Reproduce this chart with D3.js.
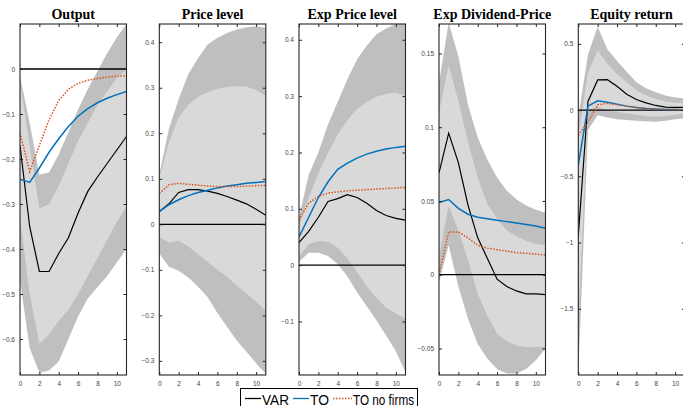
<!DOCTYPE html>
<html><head><meta charset="utf-8">
<script src="https://cdn.jsdelivr.net/npm/d3@7"></script>
<style>body{margin:0;background:#fff}svg{display:block}</style>
</head><body>
<svg id="c" width="683" height="406"></svg>
<script>
const horizons = [0,1,2,3,4,5,6,7,8,9,10,11];
const xTicks = [0,2,4,6,8,10];
const titles = ["Output","Price level","Exp Price level","Exp Dividend-Price","Equity return"];
const seriesNames = ["VAR","TO","TO no firms"];

// Output
const outputVAR   = [-0.17,-0.35,-0.45,-0.45,-0.41,-0.375,-0.32,-0.272,-0.24,-0.21,-0.18,-0.15];
const outputTO    = [-0.245,-0.252,-0.22,-0.185,-0.155,-0.128,-0.105,-0.088,-0.075,-0.065,-0.057,-0.05];
const outputTONF  = [-0.142,-0.228,-0.17,-0.113,-0.07,-0.045,-0.032,-0.025,-0.021,-0.018,-0.016,-0.015];
const outputOutHi = [-0.016,-0.12,-0.235,-0.23,-0.19,-0.14,-0.09,-0.045,-0.005,0.035,0.07,0.1];
const outputInHi  = [-0.03,-0.17,-0.31,-0.30,-0.26,-0.21,-0.16,-0.12,-0.08,-0.05,-0.02,0.0];
const outputInLo  = [-0.33,-0.5,-0.61,-0.59,-0.56,-0.535,-0.5,-0.46,-0.42,-0.38,-0.34,-0.305];
const outputOutLo = [-0.47,-0.62,-0.675,-0.67,-0.65,-0.6,-0.55,-0.51,-0.485,-0.46,-0.43,-0.4];

// Price level
const priceVAR   = [0.028,0.045,0.07,0.076,0.076,0.073,0.068,0.061,0.053,0.045,0.033,0.02];
const priceTO    = [0.028,0.043,0.054,0.063,0.07,0.075,0.08,0.084,0.087,0.09,0.092,0.094];
const priceTONF  = [0.068,0.087,0.09,0.088,0.086,0.084,0.083,0.083,0.083,0.084,0.085,0.085];
const priceOutHi = [0.11,0.21,0.275,0.33,0.365,0.395,0.41,0.42,0.428,0.433,0.435,0.432];
const priceInHi  = [0.10,0.18,0.235,0.262,0.28,0.29,0.298,0.302,0.303,0.302,0.295,0.283];
const priceInLo  = [-0.028,-0.04,-0.036,-0.049,-0.066,-0.083,-0.1,-0.115,-0.135,-0.152,-0.17,-0.19];
const priceOutLo = [-0.064,-0.093,-0.102,-0.117,-0.137,-0.16,-0.195,-0.225,-0.255,-0.28,-0.305,-0.328];

// Exp Price level
const expPriceVAR   = [0.04,0.06,0.085,0.113,0.118,0.125,0.12,0.11,0.097,0.088,0.083,0.08];
const expPriceTO    = [0.05,0.085,0.12,0.148,0.17,0.181,0.19,0.197,0.202,0.206,0.209,0.211];
const expPriceTONF  = [0.08,0.11,0.122,0.128,0.13,0.132,0.133,0.134,0.135,0.136,0.137,0.138];
const expPriceOutHi = [0.085,0.16,0.2,0.25,0.29,0.33,0.365,0.39,0.41,0.42,0.428,0.43];
const expPriceInHi  = [0.07,0.12,0.163,0.2,0.232,0.257,0.277,0.29,0.299,0.304,0.306,0.30];
const expPriceInLo  = [0.015,0.037,0.043,0.041,0.031,0.012,-0.012,-0.038,-0.058,-0.075,-0.086,-0.095];
const expPriceOutLo = [0.006,0.022,0.022,0.016,0.002,-0.02,-0.048,-0.073,-0.098,-0.125,-0.153,-0.19];

// Exp Dividend-Price
const expDPVAR   = [0.069,0.096,0.076,0.047,0.025,0.011,-0.003,-0.008,-0.011,-0.013,-0.013,-0.0135];
const expDPTO    = [0.049,0.051,0.045,0.041,0.039,0.038,0.037,0.036,0.035,0.034,0.033,0.0315];
const expDPTONF  = [0.0,0.029,0.029,0.025,0.02,0.018,0.017,0.016,0.015,0.0145,0.014,0.0134];
const expDPOutHi = [0.13,0.171,0.148,0.115,0.093,0.078,0.066,0.057,0.051,0.047,0.044,0.042];
const expDPInHi  = [0.11,0.142,0.118,0.09,0.066,0.048,0.038,0.03,0.026,0.023,0.021,0.02];
const expDPInLo  = [0.012,0.047,0.03,0.01,-0.013,-0.028,-0.04,-0.045,-0.048,-0.049,-0.049,-0.049];
const expDPOutLo = [-0.005,0.02,-0.008,-0.03,-0.047,-0.057,-0.064,-0.067,-0.067,-0.064,-0.058,-0.05];

// Equity return
const equityVAR   = [-0.95,0.065,0.228,0.23,0.18,0.12,0.08,0.055,0.035,0.022,0.02,0.02];
const equityTO    = [-0.415,0.03,0.07,0.06,0.045,0.03,0.02,0.012,0.008,0.005,0.004,0.003];
const equityTONF  = [-0.19,-0.09,0.04,0.05,0.04,0.03,0.02,0.012,0.008,0.005,0.004,0.003];
const equityOutHi = [-0.05,0.42,0.63,0.46,0.37,0.29,0.21,0.165,0.135,0.11,0.095,0.088];
const equityInHi  = [-0.2,0.28,0.45,0.35,0.27,0.21,0.15,0.11,0.083,0.065,0.055,0.05];
const equityInLo  = [-1.6,0.0,0.025,0.0,-0.015,-0.025,-0.035,-0.045,-0.05,-0.045,-0.035,-0.025];
const equityOutLo = [-2.0,-0.15,-0.038,-0.055,-0.07,-0.075,-0.08,-0.085,-0.088,-0.08,-0.07,-0.063];

const yDomains = [[-0.68,0.1],[-0.331,0.44],[-0.195,0.428],[-0.068,0.170],[-2.0,0.65]];
const yTicks = [[-0.6,-0.5,-0.4,-0.3,-0.2,-0.1,0],[-0.3,-0.2,-0.1,0,0.1,0.2,0.3,0.4],[-0.1,0,0.1,0.2,0.3,0.4],[-0.05,0,0.05,0.1,0.15],[-1.5,-1,-0.5,0,0.5]];

const panels = [
  {var:outputVAR,to:outputTO,nf:outputTONF,oh:outputOutHi,ih:outputInHi,il:outputInLo,ol:outputOutLo},
  {var:priceVAR,to:priceTO,nf:priceTONF,oh:priceOutHi,ih:priceInHi,il:priceInLo,ol:priceOutLo},
  {var:expPriceVAR,to:expPriceTO,nf:expPriceTONF,oh:expPriceOutHi,ih:expPriceInHi,il:expPriceInLo,ol:expPriceOutLo},
  {var:expDPVAR,to:expDPTO,nf:expDPTONF,oh:expDPOutHi,ih:expDPInHi,il:expDPInLo,ol:expDPOutLo},
  {var:equityVAR,to:equityTO,nf:equityTONF,oh:equityOutHi,ih:equityInHi,il:equityInLo,ol:equityOutLo}
];

const svg = d3.select("#c");
const lefts = [20,159.3,299,439,578.3];
const pw = 106.5, topY = 24, bottomY = 375;
const colVAR = "#000000", colTO = "#0072BD", colNF = "#D95319";

panels.forEach((p,i)=>{
  const x = d3.scaleLinear().domain([0,11]).range([lefts[i], lefts[i]+pw]);
  const y = d3.scaleLinear().domain(yDomains[i]).range([bottomY, topY]);
  const g = svg.append("g");
  const cid = "clip"+i;
  svg.append("clipPath").attr("id",cid).append("rect")
    .attr("x",lefts[i]).attr("y",topY).attr("width",pw).attr("height",bottomY-topY);
  const pg = g.append("g").attr("clip-path",`url(#${cid})`);
  const area = (lo,hi)=>d3.area().x((d,k)=>x(horizons[k])).y0((d,k)=>y(lo[k])).y1((d,k)=>y(hi[k]))(horizons);
  pg.append("path").attr("d",area(p.ol,p.oh)).attr("fill","#bfbfbf");
  pg.append("path").attr("d",area(p.il,p.ih)).attr("fill","#d9d9d9");
  pg.append("line").attr("x1",x(0)).attr("x2",x(11)).attr("y1",y(0)).attr("y2",y(0))
    .attr("stroke","#000").attr("stroke-width",1.3);
  const line = arr=>d3.line().x((d,k)=>x(horizons[k])).y((d,k)=>y(arr[k]))(horizons);
  pg.append("path").attr("d",line(p.var)).attr("fill","none").attr("stroke",colVAR).attr("stroke-width",1.2);
  pg.append("path").attr("d",line(p.to)).attr("fill","none").attr("stroke",colTO).attr("stroke-width",1.5);
  pg.append("path").attr("d",line(p.nf)).attr("fill","none").attr("stroke",colNF).attr("stroke-width",1.5).attr("stroke-dasharray","1.5,1.5");

  const axL = d3.axisLeft(y).tickValues(yTicks[i]).tickSize(-3).tickPadding(5).tickFormat(d3.format("~g"));
  const axR = d3.axisRight(y).tickValues(yTicks[i]).tickSize(-3).tickFormat("");
  const axB = d3.axisBottom(x).tickValues(xTicks).tickSize(-3).tickPadding(6).tickFormat(d3.format("d"));
  const axT = d3.axisTop(x).tickValues(xTicks).tickSize(-3).tickFormat("");
  const style = sel=>{sel.select(".domain").remove();
    sel.selectAll(".tick line").attr("stroke","#262626");
    sel.selectAll(".tick text").attr("fill","#444").style("font-family","Liberation Sans, Arial, sans-serif").style("font-size","6.5px");};
  g.append("g").attr("transform",`translate(${lefts[i]},0)`).call(axL).call(style);
  g.append("g").attr("transform",`translate(${lefts[i]+pw},0)`).call(axR).call(style);
  g.append("g").attr("transform",`translate(0,${bottomY})`).call(axB).call(style);
  g.append("g").attr("transform",`translate(0,${topY})`).call(axT).call(style);
  g.append("rect").attr("x",lefts[i]).attr("y",topY).attr("width",pw).attr("height",bottomY-topY)
    .attr("fill","none").attr("stroke","#262626").attr("stroke-width",1.1);

  g.append("text").attr("x",lefts[i]+pw/2).attr("y",18.5).attr("text-anchor","middle")
    .style("font-family","Liberation Serif, Times New Roman, serif").style("font-weight","bold").style("font-size","14px")
    .text(titles[i]);
});

const lg = svg.append("g");
lg.append("rect").attr("x",240.5).attr("y",388.5).attr("width",177).attr("height",24).attr("fill","#fff").attr("stroke","#000").attr("stroke-width",1);
const legendItems = [
  {name:seriesNames[0],col:colVAR,x1:245,x2:261,tx:262,len:27,dash:null},
  {name:seriesNames[1],col:colTO,x1:293,x2:309,tx:310,len:19,dash:null},
  {name:seriesNames[2],col:colNF,x1:333,x2:352,tx:353,len:61,dash:"1.5,1.5"}
];
legendItems.forEach(it=>{
  lg.append("line").attr("x1",it.x1).attr("x2",it.x2).attr("y1",398.5).attr("y2",398.5)
    .attr("stroke",it.col).attr("stroke-width",1.3).attr("stroke-dasharray",it.dash);
  lg.append("text").attr("x",it.tx).attr("y",404.5)
    .attr("textLength",it.len).attr("lengthAdjust","spacingAndGlyphs")
    .style("font-family","Liberation Sans, Arial, sans-serif").style("font-size","14.5px").text(it.name);
});
</script>
</body></html>
